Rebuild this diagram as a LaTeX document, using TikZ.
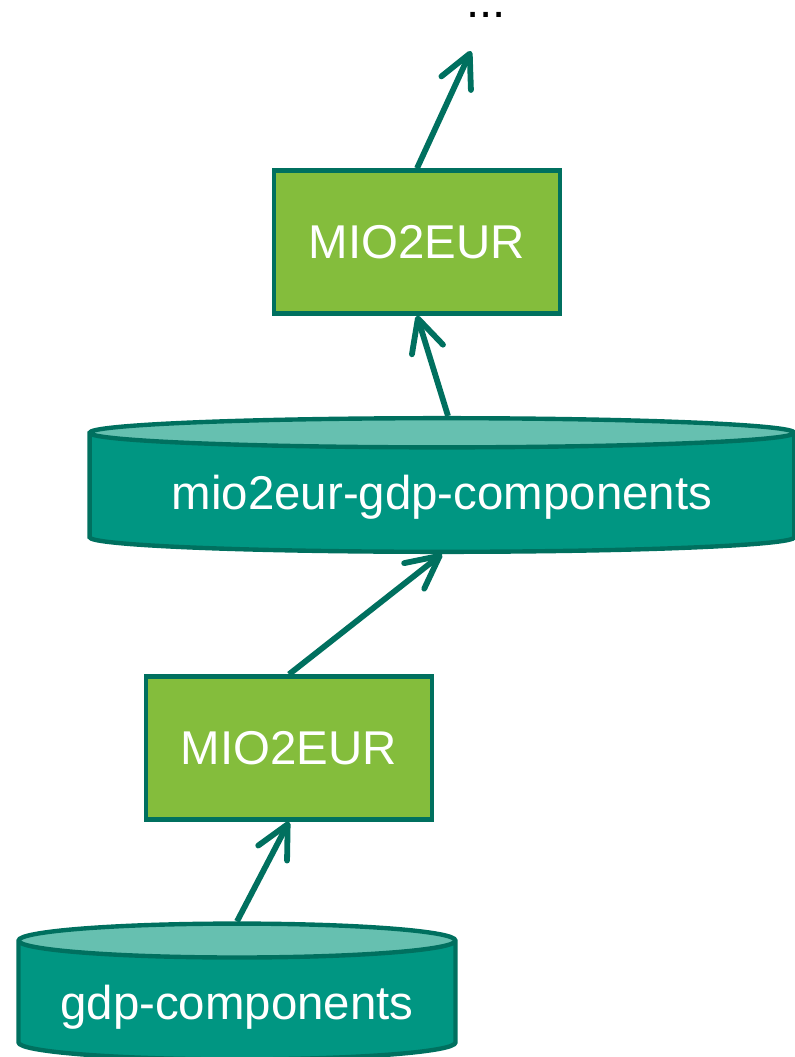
\documentclass[tikz,border=0pt]{standalone}
\usepackage{fontspec}
\setmainfont{Liberation Sans}
\usepackage{xcolor}
\usetikzlibrary{arrows.meta,positioning,shapes.geometric}

\definecolor{stepgreen}{HTML}{84BD3C}
\definecolor{edgeteal}{HTML}{00705F}
\definecolor{dbteal}{HTML}{009682}
\definecolor{dbtop}{HTML}{66C0B0}

\begin{document}
\begin{tikzpicture}[x=0.02cm, y=-0.02cm,
    stepbox/.style={draw=edgeteal, fill=stepgreen, line width=2.5pt,
      minimum width=5.72cm, minimum height=2.86cm, text=white,
      font=\fontsize{27}{32}\selectfont},
    dataset/.style={cylinder, shape border rotate=90, draw=edgeteal,
      line width=2.5pt, inner sep=0pt, anchor=shape center,
      cylinder uses custom fill,
      cylinder body fill=dbteal, cylinder end fill=dbtop,
      text=white, font=\fontsize{27}{32}\selectfont},
    flow/.style={-{Straight Barb[length=6.5mm, width=6.5mm, round]},
      edgeteal, line width=3.3pt}]
  \useasboundingbox (0,0) rectangle (794,1057);

  % Datasets and conversion steps, bottom to top
  \node[dataset, aspect=0.096, minimum width=8.74cm,
    text height=34.3pt, text depth=12.8pt] (gdp) at (237,991.5) {gdp-components};
  \node[stepbox] (convA) at (289,748) {MIO2EUR};
  \node[dataset, aspect=0.054, minimum width=14.1cm,
    text height=34pt, text depth=15.9pt] (mio) at (442,485) {mio2eur-gdp-components};
  \node[stepbox] (convB) at (417,242) {MIO2EUR};
  \node[anchor=base, inner sep=0pt, font=\fontsize{27}{32}\selectfont]
    (more) at (486,18) {...};

  % Flow
  \draw[flow] (gdp.north) -- (convA.south);
  \draw[flow] (convA.north) -- (mio.south);
  \draw[flow] ([xshift=0.12cm]mio.north) -- (convB.south);
  \draw[flow, shorten >=0.72cm] (convB.north) -- (more.south);
\end{tikzpicture}
\end{document}
